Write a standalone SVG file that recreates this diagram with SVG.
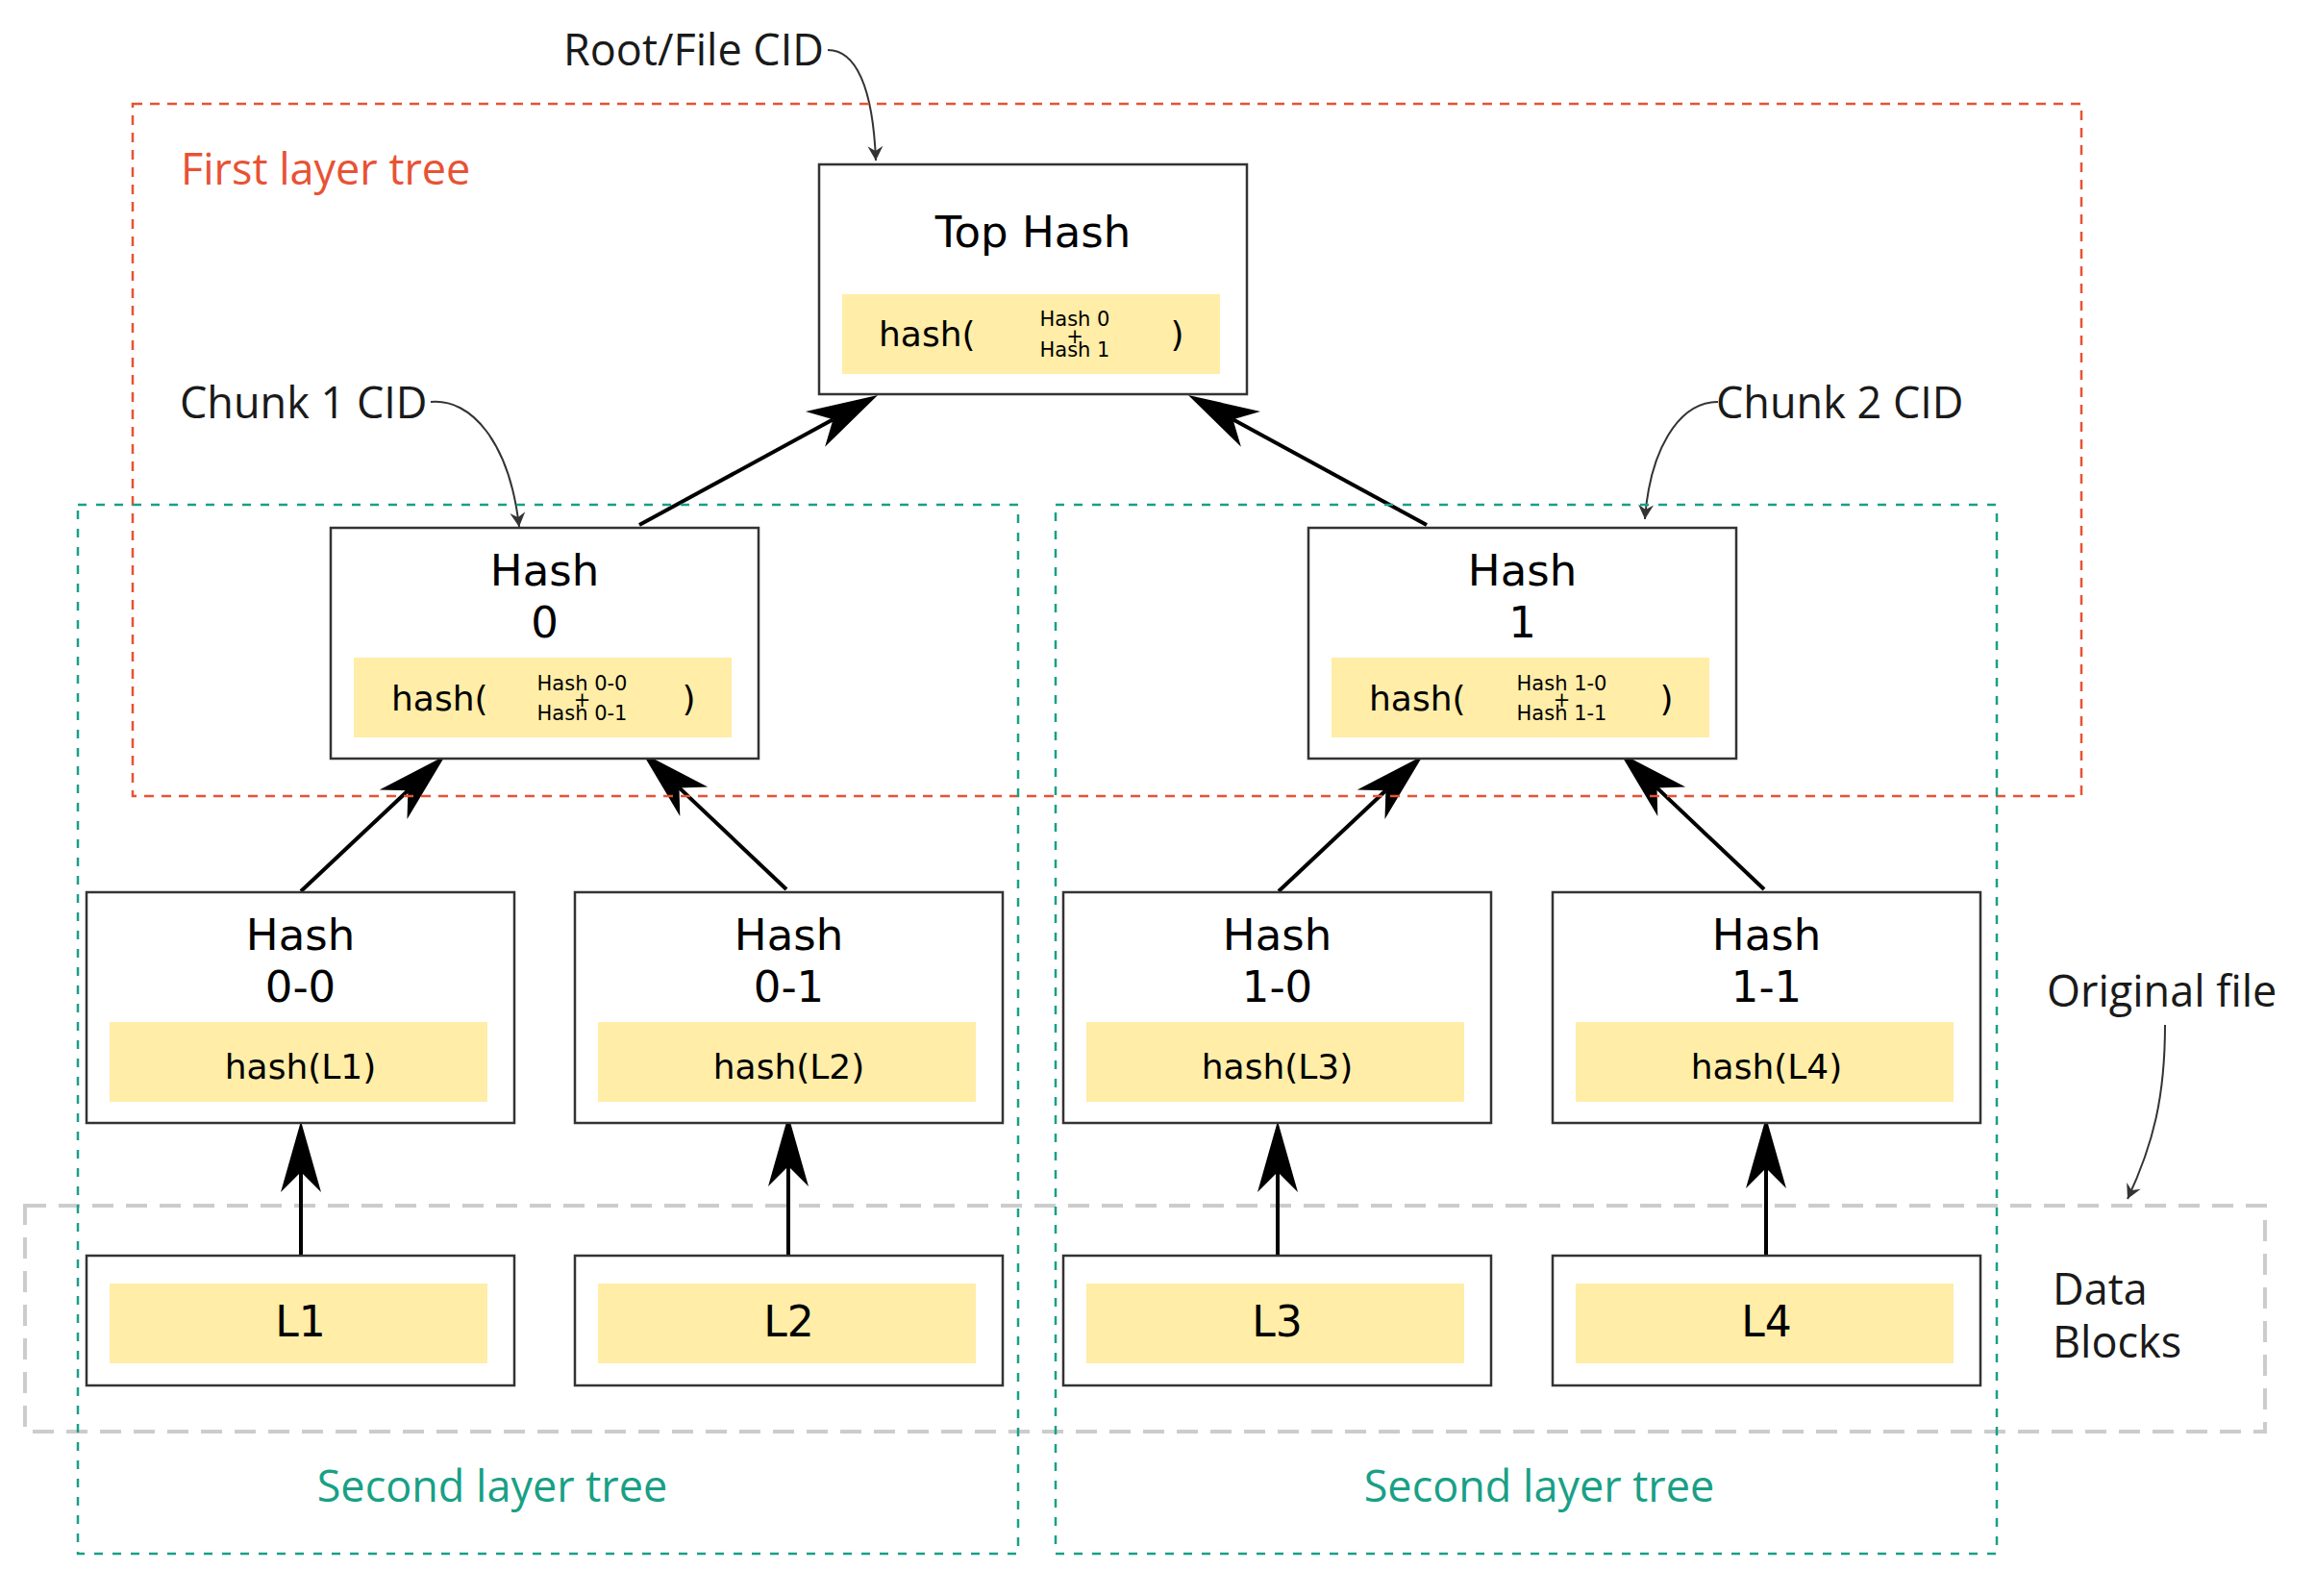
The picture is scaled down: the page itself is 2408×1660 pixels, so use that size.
<svg xmlns="http://www.w3.org/2000/svg" width="2408" height="1660" viewBox="0 0 2408 1660">
<style>
.node{fill:#fff;stroke:#333;stroke-width:2.5}
.ybox{fill:#FFEDA8;stroke:none}
.title{font-family:"DejaVu Sans",sans-serif;font-size:45px;fill:#000;text-anchor:middle}
.fn{font-family:"DejaVu Sans",sans-serif;font-size:36px;fill:#000}
.fnc{font-family:"DejaVu Sans",sans-serif;font-size:36px;fill:#000;text-anchor:middle}
.small{font-family:"DejaVu Sans",sans-serif;font-size:21px;fill:#000;text-anchor:middle}
.blk{font-family:"DejaVu Sans",sans-serif;font-size:44px;fill:#000;text-anchor:middle}
.lbl{font-family:"Open Sans","Noto Sans",sans-serif;font-size:45px;fill:#1a1a1a}
.red{fill:none;stroke:#E85234;stroke-width:2.5;stroke-dasharray:10 8}
.teal{fill:none;stroke:#18A086;stroke-width:2.5;stroke-dasharray:9 10}
.gray{fill:none;stroke:#CCCCCC;stroke-width:4;stroke-dasharray:22 13}
.edge{fill:none;stroke:#000;stroke-width:4;marker-end:url(#big)}
.cid{fill:none;stroke:#333;stroke-width:2;marker-end:url(#small)}
</style>
<defs>
<marker id="big" markerUnits="userSpaceOnUse" markerWidth="80" markerHeight="50" refX="-53" refY="0" orient="auto" overflow="visible">
<path d="M0,0 L-74,-21 L-53,0 L-74,21 Z" fill="#000"/>
</marker>
<marker id="small" markerUnits="userSpaceOnUse" markerWidth="20" markerHeight="20" refX="0" refY="0" orient="auto" overflow="visible">
<path d="M0,0 L-15,-8 L-10,0 L-15,8 Z" fill="#333"/>
</marker>
</defs>
<rect width="2408" height="1660" fill="#fff"/>

<g id="data-blocks-area">
<rect class="gray" x="26" y="1254" width="2330" height="235"/>
</g>

<g id="connectors">
<line class="edge" x1="665" y1="546" x2="866.5" y2="436.3"/>
<line class="edge" x1="1484" y1="546" x2="1282.5" y2="436.3"/>
<line class="edge" x1="313" y1="927" x2="424.4" y2="822.3"/>
<line class="edge" x1="818" y1="925" x2="706.5" y2="819.4"/>
<line class="edge" x1="1330" y1="927" x2="1441.4" y2="822.3"/>
<line class="edge" x1="1835" y1="925" x2="1723.5" y2="819.4"/>
<line class="edge" x1="313" y1="1307" x2="313" y2="1219"/>
<line class="edge" x1="820" y1="1307" x2="820" y2="1213"/>
<line class="edge" x1="1329" y1="1307" x2="1329" y2="1219"/>
<line class="edge" x1="1837" y1="1307" x2="1837" y2="1215"/>
<path class="cid" d="M861,52 C890,52 908,90 911,167"/>
<path class="cid" d="M448,418 C490,414 530,460 540,548"/>
<path class="cid" d="M1787,418 C1745,418 1716,470 1711,540"/>
<path class="cid" d="M2252,1066 C2252,1140 2240,1190 2213,1247"/>
</g>

<g id="first-layer-tree">
<rect class="red" x="138" y="108" width="2027" height="720"/>
<text x="188" y="192" style="font-family:'Open Sans','Noto Sans',sans-serif;font-size:45px;fill:#E85234">First layer tree</text>
</g>
<g id="second-layer-tree-left">
<rect class="teal" x="81" y="525" width="978" height="1091"/>
<text x="512" y="1562" text-anchor="middle" style="font-family:'Open Sans','Noto Sans',sans-serif;font-size:45px;fill:#18A086">Second layer tree</text>
</g>
<g id="second-layer-tree-right">
<rect class="teal" x="1098" y="525" width="979" height="1091"/>
<text x="1601" y="1562" text-anchor="middle" style="font-family:'Open Sans','Noto Sans',sans-serif;font-size:45px;fill:#18A086">Second layer tree</text>
</g>

<g id="top-hash">
<rect class="node" x="852" y="171" width="445" height="239"/>
<rect class="ybox" x="876" y="306" width="393" height="83"/>
<text class="title" x="1074.5" y="257">Top Hash</text>
<text class="fn" x="914" y="360">hash(</text>
<text class="small" x="1118" y="339">Hash 0</text>
<text class="small" x="1118" y="357">+</text>
<text class="small" x="1118" y="371">Hash 1</text>
<text class="fnc" x="1224.5" y="360">)</text>
</g>

<g id="hash-0">
<rect class="node" x="344" y="549" width="445" height="240"/>
<rect class="ybox" x="368" y="684" width="393" height="83"/>
<text class="title" x="566.5" y="609">Hash</text>
<text class="title" x="566.5" y="663">0</text>
<text class="fn" x="407" y="739">hash(</text>
<text class="small" x="605.5" y="718">Hash 0-0</text>
<text class="small" x="605.5" y="735">+</text>
<text class="small" x="605.5" y="749">Hash 0-1</text>
<text class="fnc" x="716.5" y="739">)</text>
</g>

<g id="hash-1">
<rect class="node" x="1361" y="549" width="445" height="240"/>
<rect class="ybox" x="1385" y="684" width="393" height="83"/>
<text class="title" x="1583.5" y="609">Hash</text>
<text class="title" x="1583.5" y="663">1</text>
<text class="fn" x="1424" y="739">hash(</text>
<text class="small" x="1624.5" y="718">Hash 1-0</text>
<text class="small" x="1624.5" y="735">+</text>
<text class="small" x="1624.5" y="749">Hash 1-1</text>
<text class="fnc" x="1733.5" y="739">)</text>
</g>

<g id="hash-0-0">
<rect class="node" x="90" y="928" width="445" height="240"/>
<rect class="ybox" x="114" y="1063" width="393" height="83"/>
<text class="title" x="312.5" y="988">Hash</text>
<text class="title" x="312.5" y="1042">0-0</text>
<text class="fnc" x="312.5" y="1122">hash(L1)</text>
</g>
<g id="hash-0-1">
<rect class="node" x="598" y="928" width="445" height="240"/>
<rect class="ybox" x="622" y="1063" width="393" height="83"/>
<text class="title" x="820.5" y="988">Hash</text>
<text class="title" x="820.5" y="1042">0-1</text>
<text class="fnc" x="820.5" y="1122">hash(L2)</text>
</g>
<g id="hash-1-0">
<rect class="node" x="1106" y="928" width="445" height="240"/>
<rect class="ybox" x="1130" y="1063" width="393" height="83"/>
<text class="title" x="1328.5" y="988">Hash</text>
<text class="title" x="1328.5" y="1042">1-0</text>
<text class="fnc" x="1328.5" y="1122">hash(L3)</text>
</g>
<g id="hash-1-1">
<rect class="node" x="1615" y="928" width="445" height="240"/>
<rect class="ybox" x="1639" y="1063" width="393" height="83"/>
<text class="title" x="1837.5" y="988">Hash</text>
<text class="title" x="1837.5" y="1042">1-1</text>
<text class="fnc" x="1837.5" y="1122">hash(L4)</text>
</g>

<g id="L1">
<rect class="node" x="90" y="1306" width="445" height="135"/>
<rect class="ybox" x="114" y="1335" width="393" height="83"/>
<text class="blk" x="312.5" y="1390">L1</text>
</g>
<g id="L2">
<rect class="node" x="598" y="1306" width="445" height="135"/>
<rect class="ybox" x="622" y="1335" width="393" height="83"/>
<text class="blk" x="820.5" y="1390">L2</text>
</g>
<g id="L3">
<rect class="node" x="1106" y="1306" width="445" height="135"/>
<rect class="ybox" x="1130" y="1335" width="393" height="83"/>
<text class="blk" x="1328.5" y="1390">L3</text>
</g>
<g id="L4">
<rect class="node" x="1615" y="1306" width="445" height="135"/>
<rect class="ybox" x="1639" y="1335" width="393" height="83"/>
<text class="blk" x="1837.5" y="1390">L4</text>
</g>

<g id="labels">
<text class="lbl" x="586" y="68">Root/File CID</text>
<text class="lbl" x="187" y="435">Chunk 1 CID</text>
<text class="lbl" x="1785" y="435">Chunk 2 CID</text>
<text class="lbl" x="2129" y="1047">Original file</text>
<text class="lbl" x="2135" y="1357">Data</text>
<text class="lbl" x="2135" y="1412">Blocks</text>
</g>
</svg>
